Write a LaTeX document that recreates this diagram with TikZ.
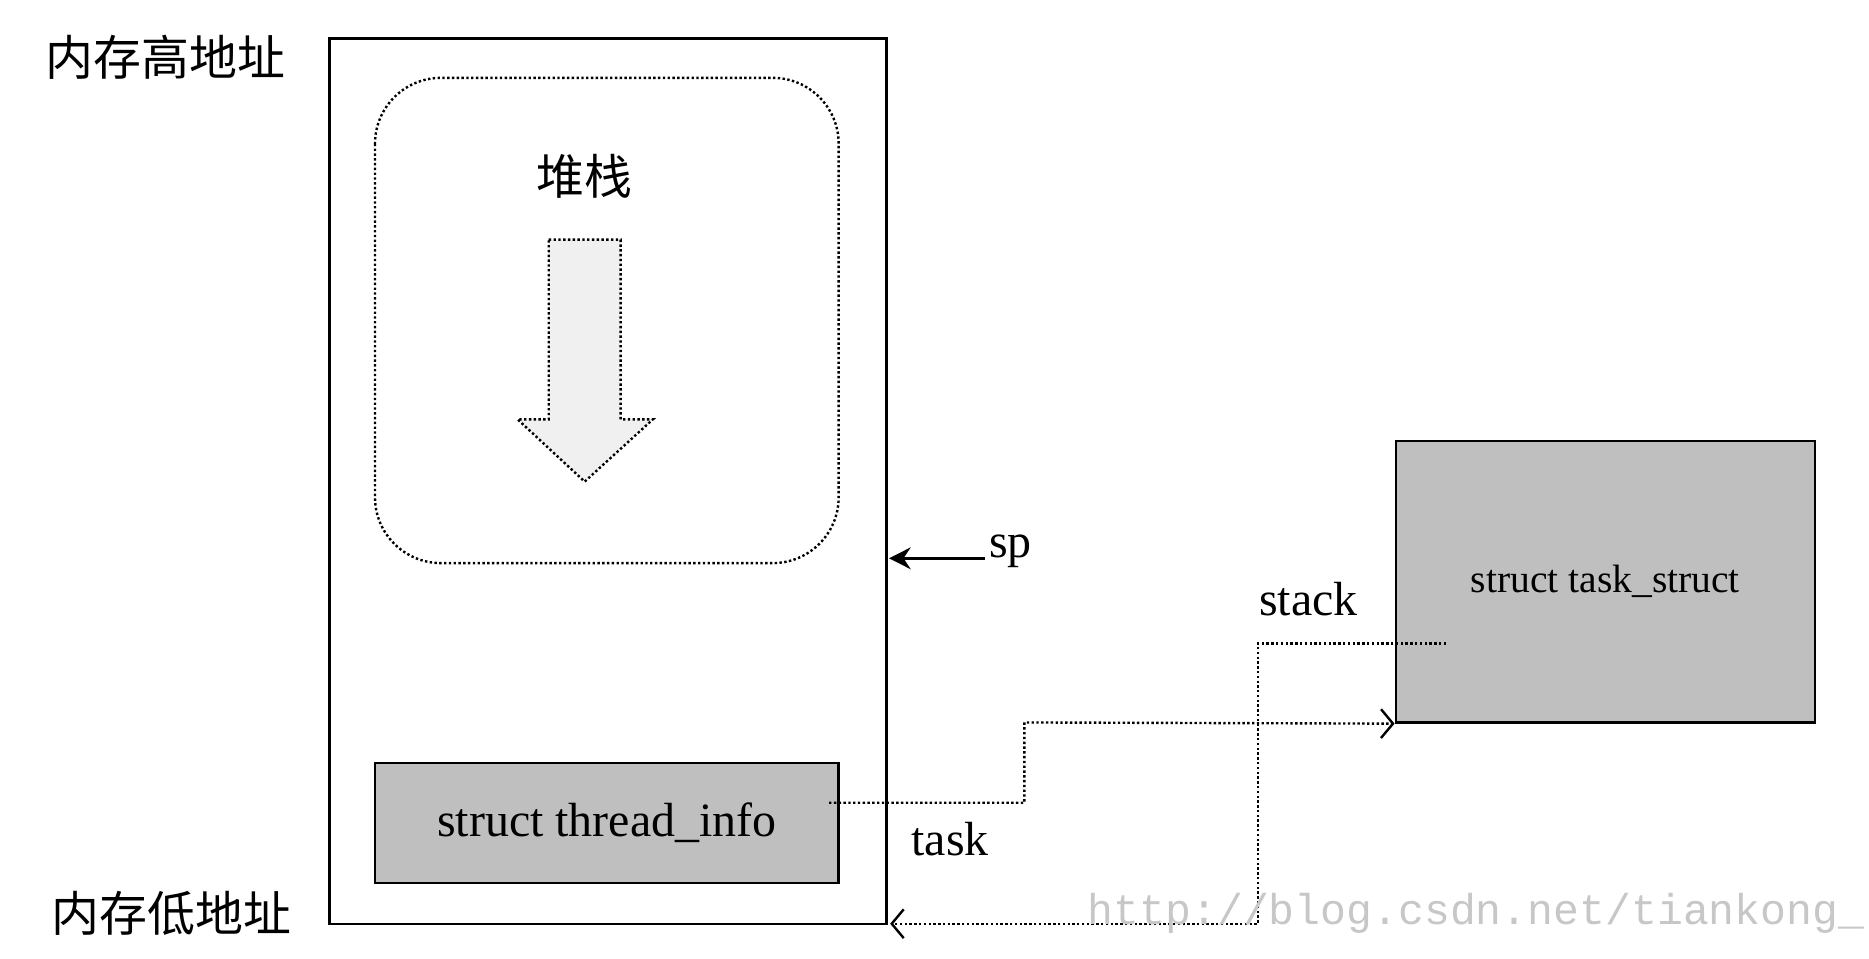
\documentclass[tikz,border=0pt]{standalone}
\usepackage{fontspec}
\setmainfont{Liberation Serif}
\newfontfamily\cjk{Noto Sans CJK SC}
\newfontfamily\wmfont{Liberation Mono}
\usetikzlibrary{arrows.meta,positioning}
\tikzset{
  box/.style={draw=black, line width=2pt, inner sep=0pt},
  grey box/.style={box, fill=black!25},
  link/.style={dotted, line width=2pt},
  chev/.style={-{Straight Barb[length=10pt,width=24pt,line width=2pt]}}
}
\begin{document}
\begin{tikzpicture}[x=1pt, y=-1pt]
\useasboundingbox (0,0) rectangle (1560,800);
% memory area
\node (mem) [box, minimum width=465pt, minimum height=739pt] at (507.5,401.5) {};
\draw [dotted, line width=2pt, rounded corners=55pt] (313,65) rectangle (700,470);
\node (stk) [font=\cjk\fontsize{40}{40}\selectfont] at (488,147) {堆栈};
\draw [dotted, line width=2pt, fill=black!6] (458,200) -- (518,200) -- (518,350) -- (545,350)
  -- (488,402) -- (432,350) -- (458,350) -- cycle;
\node (ti) [grey box, minimum width=387pt, minimum height=100pt, font=\fontsize{40}{40}\selectfont] at (506.5,687) {struct thread\_info};
\node (hi) [font=\cjk\fontsize{40}{40}\selectfont] at (138,48) {内存高地址};
\node (lo) [font=\cjk\fontsize{40}{40}\selectfont] at (143,762) {内存低地址};
% stack pointer
\coordinate (spa) at (742,466);
\node (sp) [font=\fontsize{40}{40}\selectfont, anchor=west] at (822,460) {sp};
\draw [-{Stealth[length=18pt,width=18pt]}, line width=2.5pt] (sp.west |- spa) -- (spa);
% task_struct
\node (ts) [grey box, minimum width=350pt, minimum height=235pt] at (1340,485.5) {};
\node (tsl) [font=\fontsize{33}{33}\selectfont] at (1340,485) {struct task\_struct};
\node (stk2) [font=\fontsize{40}{40}\selectfont] at (1092,500) {stack};
\node (task) [font=\fontsize{40}{40}\selectfont] at (793,700) {task};
\coordinate (tio) at (692,670);
\coordinate (tso) at (1207,537);
\coordinate (memlo) at (743,771);
\draw [link, chev] (tio) -- (855,670) -- (855,603) -- (ts.south west);
\draw [link, chev] (tso) -- (1050,537) -- (1050,771) -- (memlo);
% watermark
\node (wm) [text=black!22, font=\wmfont\fontsize{36}{36}\selectfont] at (1232,762) {http://blog.csdn.net/tiankong\_};
\end{tikzpicture}
\end{document}
